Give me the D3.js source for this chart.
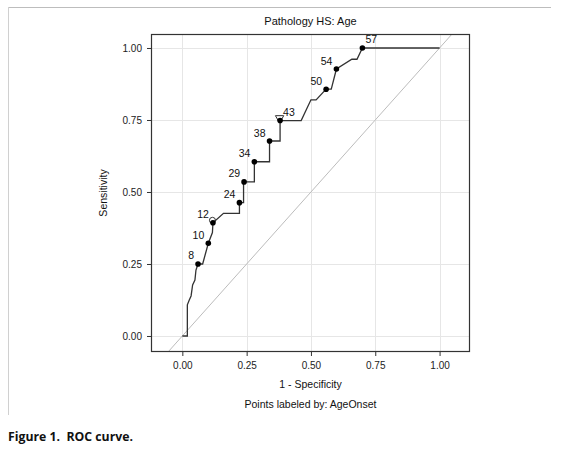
<!DOCTYPE html>
<html><head><meta charset="utf-8">
<script src="https://cdn.jsdelivr.net/npm/d3@7"></script>
<style>body{margin:0;background:#fff}svg{display:block}</style>
</head><body>
<script>
// ROC curve path (1 - specificity, sensitivity)
const rocX = [0, 0.0195, 0.0195, 0.027, 0.034, 0.040, 0.049, 0.053, 0.061, 0.079, 0.101, 0.117, 0.119, 0.160, 0.222, 0.222, 0.238, 0.238, 0.280, 0.280, 0.339, 0.339, 0.380, 0.380, 0.462, 0.500, 0.520, 0.559, 0.579, 0.599, 0.659, 0.679, 0.700, 1.000];
const rocY = [0, 0, 0.108, 0.125, 0.139, 0.177, 0.194, 0.229, 0.250, 0.250, 0.322, 0.359, 0.393, 0.426, 0.426, 0.463, 0.463, 0.535, 0.535, 0.605, 0.605, 0.677, 0.677, 0.748, 0.748, 0.820, 0.820, 0.857, 0.857, 0.927, 0.961, 0.961, 1.000, 1.000];
// labelled points (AgeOnset)
const pointLabels = ["8", "10", "12", "24", "29", "34", "38", "43", "50", "54", "57"];
const pointX = [0.061, 0.101, 0.119, 0.222, 0.240, 0.280, 0.339, 0.380, 0.559, 0.599, 0.700];
const pointY = [0.250, 0.322, 0.393, 0.463, 0.535, 0.605, 0.677, 0.748, 0.857, 0.927, 1.000];
const labelRight = [false, false, false, false, false, false, false, true, false, false, true];
// tick values
const xTicks = [0, 0.25, 0.5, 0.75, 1];
const yTicks = [0, 0.25, 0.5, 0.75, 1];
const titleText = "Pathology HS: Age";
const xLabel = "1 - Specificity";
const yLabel = "Sensitivity";
const footText = "Points labeled by: AgeOnset";
const captionText = "Figure 1.  ROC curve.";

(function () {
const W = 562, H = 450;
const svg = d3.select("body").append("svg").attr("width", W).attr("height", H);
const font = "'Liberation Sans', Arial, sans-serif";

// outer frame lines
svg.append("line").attr("x1", 8).attr("x2", 551).attr("y1", 7.5).attr("y2", 7.5).attr("stroke", "#bdbdbd").attr("stroke-width", 1);
svg.append("line").attr("x1", 8.5).attr("x2", 8.5).attr("y1", 7).attr("y2", 415).attr("stroke", "#d0d0d0").attr("stroke-width", 1);

const pLeft = 151, pRight = 470, pTop = 34, pBottom = 352;
const x = d3.scaleLinear().domain([-0.1218, 1.1183]).range([pLeft, pRight]);
const y = d3.scaleLinear().domain([-0.0556, 1.0486]).range([pBottom, pTop]);

// grid
const g = svg.append("g");
g.selectAll(".gx").data(xTicks).enter().append("line")
  .attr("x1", d => Math.round(x(d)) + 0.5).attr("x2", d => Math.round(x(d)) + 0.5)
  .attr("y1", pTop).attr("y2", pBottom).attr("stroke", "#e6e6e6");
g.selectAll(".gy").data(yTicks).enter().append("line")
  .attr("y1", d => Math.round(y(d)) + 0.5).attr("y2", d => Math.round(y(d)) + 0.5)
  .attr("x1", pLeft).attr("x2", pRight).attr("stroke", "#e6e6e6");

// diagonal reference
svg.append("clipPath").attr("id", "clip").append("rect")
  .attr("x", pLeft).attr("y", pTop).attr("width", pRight - pLeft).attr("height", pBottom - pTop);
svg.append("line").attr("clip-path", "url(#clip)")
  .attr("x1", x(-0.2)).attr("y1", y(-0.2)).attr("x2", x(1.2)).attr("y2", y(1.2))
  .attr("stroke", "#bcbcbc").attr("stroke-width", 1);

// axes
const xAxis = d3.axisBottom(x).tickValues(xTicks).tickFormat(d3.format(".2f")).tickSize(4).tickSizeOuter(0);
const yAxis = d3.axisLeft(y).tickValues(yTicks).tickFormat(d3.format(".2f")).tickSize(4).tickSizeOuter(0);
const gx = svg.append("g").attr("transform", `translate(0,${pBottom})`).call(xAxis);
const gy = svg.append("g").attr("transform", `translate(${pLeft},0)`).call(yAxis);
[gx, gy].forEach(a => {
  a.select(".domain").remove();
  a.selectAll("line").attr("stroke", "#333");
  a.selectAll("text").attr("font-family", font).attr("font-size", 10).attr("fill", "#222");
});
gx.selectAll("text").attr("dy", "1.05em").attr("y", 6);
gy.selectAll("text").attr("x", -9);

// frame
svg.append("rect").attr("x", pLeft + 0.5).attr("y", pTop + 0.5).attr("width", pRight - pLeft - 1).attr("height", pBottom - pTop - 1)
  .attr("fill", "none").attr("stroke", "#333").attr("stroke-width", 1.2);

// ROC curve
const pts = rocX.map((v, i) => [v, rocY[i]]);
svg.append("path").datum(pts)
  .attr("d", d3.line().x(d => x(d[0])).y(d => y(d[1])))
  .attr("fill", "none").attr("stroke", "#333").attr("stroke-width", 1.3);

// special markers at 12 and 43
svg.append("circle").attr("cx", x(pointX[2]) - 0.5).attr("cy", y(pointY[2]) - 2.5).attr("r", 3)
  .attr("fill", "none").attr("stroke", "#333").attr("stroke-width", 1);
svg.append("path").attr("d", d3.symbol().type(d3.symbolTriangle).size(30)())
  .attr("transform", `translate(${x(pointX[7]) - 0.5},${y(pointY[7]) - 2.5}) rotate(180)`)
  .attr("fill", "none").attr("stroke", "#333").attr("stroke-width", 1);

// points
svg.selectAll(".pt").data(pointX).enter().append("circle")
  .attr("cx", (d) => x(d)).attr("cy", (d, i) => y(pointY[i])).attr("r", 2.8).attr("fill", "#000");

// labels
svg.selectAll(".lb").data(pointLabels).enter().append("text")
  .attr("x", (d, i) => x(pointX[i]) + (labelRight[i] ? 3 : -4))
  .attr("y", (d, i) => y(pointY[i]) - 4.5)
  .attr("text-anchor", (d, i) => labelRight[i] ? "start" : "end")
  .attr("font-family", font).attr("font-size", 10.5).attr("fill", "#111").text(d => d);

// texts
const cx = (pLeft + pRight) / 2;
svg.append("text").attr("x", cx).attr("y", 25).attr("text-anchor", "middle")
  .attr("font-family", font).attr("font-size", 11).attr("fill", "#111").text(titleText);
svg.append("text").attr("x", cx).attr("y", 388).attr("text-anchor", "middle")
  .attr("font-family", font).attr("font-size", 10.5).attr("fill", "#111").text(xLabel);
svg.append("text").attr("x", cx).attr("y", 408).attr("text-anchor", "middle")
  .attr("font-family", font).attr("font-size", 10.5).attr("fill", "#111").text(footText);
svg.append("text").attr("transform", `translate(107,${(pTop + pBottom) / 2}) rotate(-90)`).attr("text-anchor", "middle")
  .attr("font-family", font).attr("font-size", 10.5).attr("fill", "#111").text(yLabel);
svg.append("text").attr("x", 8).attr("y", 441).style("white-space", "pre")
  .attr("font-family", "'Open Sans', 'Liberation Sans', sans-serif").attr("font-weight", "bold").attr("font-size", 12.5)
  .attr("textLength", 125).attr("lengthAdjust", "spacingAndGlyphs").attr("fill", "#111").text(captionText);
})();
</script>
</body></html>
